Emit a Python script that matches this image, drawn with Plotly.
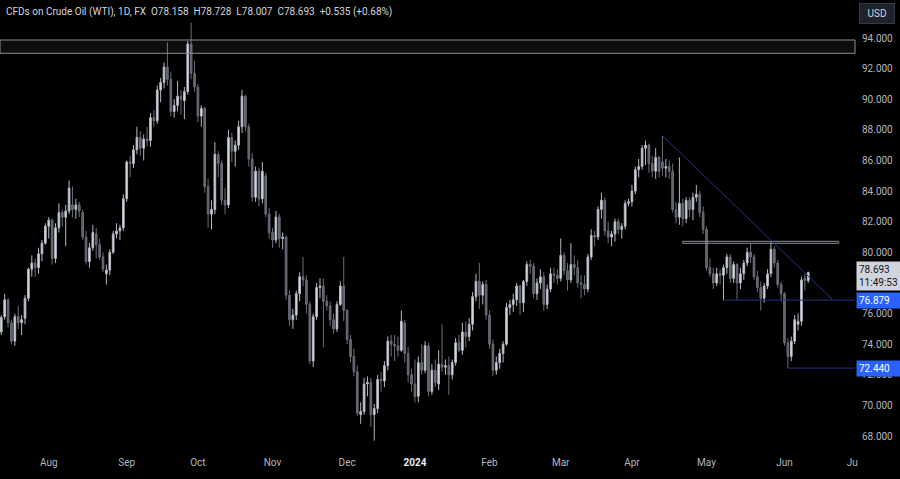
import pandas as pd
import plotly.graph_objects as go

# daily bars, Jul 12 2023 -> Jun 12 2024 (weekdays, no Christmas / New Year bar)
HOLIDAYS = ["2023-12-25", "2024-01-01"]
dates = pd.bdate_range("2023-07-12", "2024-06-12", freq="C", holidays=HOLIDAYS) + pd.Timedelta(hours=12)

# one line per month: Jul, Aug, Sep, Oct, Nov, Dec, Jan, Feb, Mar, Apr, May, Jun
opens = [
    74.8, 75.8, 76.9, 75.4, 74.2, 75.8, 75.4, 75.7, 77.0, 78.9, 79.3, 79.0, 79.9, 80.6,
    81.7, 82.1, 79.6, 81.6, 82.6, 82.3, 82.7, 83.1, 82.8, 83.1, 82.6, 81.0, 79.4, 80.3, 81.2, 80.5, 79.7, 78.6, 78.85, 80.0, 81.2, 81.4, 81.6,
    83.5, 85.9, 85.8, 86.7, 87.5, 86.8, 87.4, 87.3, 88.8, 88.6, 90.6, 91.1, 92.1, 91.3, 89.2, 89.6, 90.2, 89.9, 90.5, 93.6, 91.7,
    90.8, 88.9, 89.4, 84.3, 82.5, 82.8, 86.4, 85.8, 83.4, 83.1, 87.5, 86.6, 87.0, 88.2, 90.2, 88.2, 86.1, 83.6, 85.3, 83.5, 85.0, 82.5,
    81.3, 80.8, 82.3, 80.9, 81.0, 77.2, 75.6, 75.9, 77.3, 78.4, 78.2, 76.6, 72.9, 75.8, 77.7, 77.8, 76.8, 76.5, 75.6, 75.0, 76.6, 77.8,
    76.2, 74.3, 73.2, 72.2, 69.4, 69.6, 71.4, 71.5, 69.4, 69.8, 71.7, 71.6, 72.6, 74.2, 74.0, 73.9, 73.6, 75.4, 73.4, 72.0,
    71.4, 70.6, 72.8, 72.3, 73.9, 70.9, 72.3, 71.4, 72.7, 72.5, 72.6, 72.0, 72.8, 74.1, 73.6, 74.8, 74.5, 75.3, 77.1, 78.1, 77.2, 77.9,
    75.9, 74.0, 72.3, 72.8, 73.4, 74.0, 76.4, 76.6, 76.9, 77.8, 76.7, 78.1, 79.2, 79.1, 77.3, 78.0, 78.4, 76.6, 77.6, 78.6, 78.5,
    78.3, 79.8, 78.8, 78.2, 79.2, 79.0, 78.0, 77.9, 77.6, 79.7, 81.1, 81.0, 82.8, 83.4, 81.4, 81.0, 81.2, 82.0, 81.5, 81.7, 83.2,
    83.3, 84.0, 85.4, 85.6, 86.8, 87.0, 85.8, 85.3, 86.2, 85.9, 85.5, 85.6, 85.3, 82.8, 82.3, 83.2, 82.2, 83.4, 82.8, 83.6, 83.8, 82.6,
    81.5, 79.0, 78.6, 78.0, 78.6, 78.5, 79.0, 79.7, 78.3, 79.2, 78.0, 78.6, 79.3, 80.0, 79.7, 78.4, 77.7, 77.0, 77.8, 78.6, 80.2, 79.3, 77.9,
    77.3, 74.1, 73.2, 74.2, 75.3, 75.5, 78.3, 78.158,
]
highs = [
    75.9, 77.3, 77.0, 75.6, 76.0, 76.5, 75.9, 77.2, 79.0, 79.8, 79.6, 80.3, 80.8, 81.9,
    82.3, 82.2, 81.9, 83.2, 82.8, 83.1, 84.7, 84.3, 83.5, 83.3, 82.8, 81.4, 80.6, 81.8, 81.6, 80.9, 80.0, 79.2, 80.2, 81.4, 81.9, 81.8, 83.8,
    86.0, 86.3, 87.0, 88.2, 87.9, 87.7, 88.2, 89.1, 89.3, 90.9, 91.4, 92.4, 93.7, 91.8, 90.0, 91.2, 90.6, 90.8, 93.8, 95.0, 92.5,
    91.0, 89.6, 89.5, 84.8, 83.4, 87.2, 86.6, 86.0, 84.2, 88.0, 87.8, 87.3, 88.6, 90.6, 90.3, 88.4, 86.5, 85.6, 85.5, 85.9, 85.2, 82.9,
    81.6, 82.7, 82.5, 81.3, 81.1, 77.5, 76.3, 77.5, 78.7, 79.7, 78.5, 76.8, 76.0, 78.0, 78.3, 78.3, 77.2, 76.8, 76.0, 76.8, 78.1, 79.7,
    76.3, 74.6, 73.7, 72.6, 70.2, 71.8, 71.9, 71.8, 70.1, 72.0, 72.2, 72.9, 74.5, 74.6, 74.6, 74.5, 76.2, 75.6, 73.8, 72.4,
    73.0, 73.2, 74.0, 74.2, 74.1, 72.7, 73.0, 73.6, 75.3, 73.0, 73.2, 73.0, 74.4, 74.6, 75.4, 75.5, 75.7, 77.4, 78.6, 79.3, 78.1, 78.2,
    76.2, 74.3, 73.2, 73.7, 74.2, 76.7, 76.9, 77.3, 78.0, 77.9, 78.2, 79.4, 79.5, 79.3, 78.3, 78.9, 78.7, 77.9, 79.0, 79.0, 78.9,
    80.9, 80.0, 79.3, 80.6, 79.8, 79.5, 78.5, 78.5, 79.9, 81.5, 81.4, 83.0, 83.9, 83.6, 82.0, 81.4, 82.2, 82.2, 81.9, 83.4, 83.5,
    84.4, 85.6, 86.1, 87.0, 87.3, 87.1, 86.3, 86.8, 86.3, 87.6, 86.1, 86.0, 85.8, 83.3, 86.2, 83.5, 83.6, 83.6, 83.9, 84.4, 84.0, 83.0,
    81.7, 79.6, 79.0, 79.0, 78.9, 79.2, 79.9, 79.9, 79.4, 79.3, 79.0, 79.5, 80.3, 80.6, 79.9, 78.8, 78.1, 78.0, 78.9, 80.7, 80.4, 79.5, 78.1,
    77.4, 74.4, 74.5, 75.9, 76.0, 78.4, 78.6, 78.728,
]
lows = [
    74.6, 75.6, 75.1, 74.0, 73.9, 75.0, 74.6, 75.3, 76.8, 78.4, 78.4, 78.6, 79.4, 80.5,
    80.9, 79.2, 79.3, 81.3, 81.7, 80.4, 82.5, 82.3, 82.2, 82.3, 80.8, 79.2, 79.0, 80.1, 79.6, 79.5, 78.7, 77.9, 78.5, 79.9, 80.9, 80.8, 81.4,
    83.3, 84.9, 85.5, 86.4, 86.3, 86.0, 86.9, 86.9, 88.2, 88.4, 89.8, 90.7, 90.9, 88.9, 88.8, 89.2, 89.0, 88.7, 90.3, 91.3, 90.5,
    88.5, 88.2, 83.9, 81.6, 81.5, 82.5, 84.9, 83.1, 82.5, 82.9, 85.9, 85.6, 86.7, 87.8, 87.9, 85.6, 83.3, 83.3, 83.0, 83.2, 82.3, 80.9,
    80.3, 80.6, 80.3, 80.2, 76.9, 75.2, 75.0, 75.6, 76.8, 77.8, 76.0, 72.7, 72.5, 75.6, 77.0, 73.8, 76.2, 75.2, 74.7, 74.8, 76.5, 75.5,
    74.0, 72.8, 71.9, 69.3, 68.8, 69.4, 70.6, 68.6, 67.7, 69.5, 70.9, 71.2, 72.3, 73.2, 72.9, 73.2, 73.5, 72.8, 71.5, 70.9,
    70.2, 70.2, 72.0, 72.1, 70.6, 70.7, 71.2, 71.0, 72.2, 72.0, 70.7, 71.7, 72.6, 73.5, 73.3, 73.8, 74.2, 74.9, 76.8, 76.3, 76.6, 75.6,
    73.7, 71.9, 72.0, 72.4, 72.8, 73.9, 75.9, 76.1, 76.5, 75.9, 76.1, 77.8, 78.6, 77.0, 76.9, 77.6, 76.2, 76.3, 77.4, 78.0, 77.9,
    78.1, 78.5, 77.5, 78.0, 78.5, 77.7, 77.0, 77.2, 77.4, 79.5, 80.4, 80.8, 82.2, 81.1, 80.6, 80.4, 80.7, 81.2, 80.9, 81.5, 83.0,
    83.0, 83.8, 84.9, 85.4, 85.7, 85.2, 84.9, 84.8, 84.9, 85.0, 84.9, 84.8, 82.6, 81.9, 81.8, 81.7, 81.9, 82.3, 82.1, 83.3, 82.3, 81.2,
    78.8, 78.4, 77.6, 77.8, 77.9, 76.88, 78.6, 78.0, 78.0, 76.9, 77.6, 78.2, 79.1, 79.3, 78.2, 77.4, 76.2, 76.7, 77.6, 78.4, 79.0, 77.7, 76.8,
    73.9, 72.44, 72.9, 74.0, 74.9, 75.2, 77.5, 78.007,
]
closes = [
    75.75, 76.9, 75.4, 74.2, 75.8, 75.4, 75.6, 77.0, 78.9, 79.3, 79.0, 79.9, 80.6, 81.7,
    82.1, 79.6, 81.6, 82.6, 82.3, 82.7, 84.2, 82.8, 83.1, 82.7, 81.0, 79.4, 80.3, 81.3, 80.5, 79.7, 78.9, 78.85, 80.0, 81.2, 81.4, 81.6, 83.5,
    85.9, 85.8, 86.7, 87.5, 86.8, 87.4, 87.3, 88.8, 88.6, 90.6, 91.1, 92.1, 91.3, 89.2, 89.6, 90.2, 90.0, 90.5, 93.6, 91.7, 90.8,
    88.9, 89.4, 84.3, 82.5, 82.8, 86.4, 85.8, 83.4, 83.1, 87.5, 86.6, 87.0, 88.2, 90.2, 88.2, 86.1, 83.6, 85.3, 83.5, 85.3, 82.5, 81.3,
    80.8, 82.3, 80.9, 81.0, 77.2, 75.6, 75.9, 77.3, 78.4, 78.2, 76.6, 72.9, 75.8, 77.7, 77.8, 76.8, 76.5, 75.6, 75.0, 76.6, 77.8, 76.2,
    74.3, 73.2, 72.2, 69.5, 69.6, 71.4, 71.5, 69.4, 69.8, 71.7, 71.6, 72.6, 74.2, 74.0, 73.9, 73.6, 75.5, 73.4, 72.0, 71.4,
    70.6, 72.8, 72.3, 73.9, 70.9, 72.3, 71.5, 72.7, 72.5, 72.6, 72.0, 72.8, 74.1, 73.6, 74.8, 74.5, 75.3, 77.1, 78.1, 77.2, 77.9, 75.9,
    74.0, 72.3, 72.8, 73.4, 74.0, 76.4, 76.6, 76.9, 77.8, 76.7, 78.1, 79.2, 79.1, 77.3, 78.0, 78.4, 76.6, 77.6, 78.6, 78.5, 78.3,
    79.8, 78.8, 78.2, 79.2, 79.0, 78.0, 77.9, 77.6, 79.7, 81.1, 81.0, 82.8, 83.4, 81.4, 81.0, 81.2, 82.0, 81.5, 81.7, 83.2, 83.3,
    84.0, 85.4, 85.6, 86.8, 87.0, 85.8, 85.3, 86.2, 85.3, 85.5, 85.6, 85.3, 82.8, 82.3, 83.2, 82.2, 83.4, 82.8, 83.6, 83.8, 82.6, 81.5,
    79.0, 78.6, 78.0, 78.6, 78.5, 79.0, 79.7, 78.3, 79.2, 78.0, 78.6, 79.3, 80.0, 79.7, 78.4, 77.7, 77.0, 77.8, 78.6, 80.2, 79.3, 77.9, 77.3,
    74.1, 73.2, 74.2, 75.6, 75.5, 78.2, 78.16, 78.693,
]

month_ticks = ["2023-08-01", "2023-09-01", "2023-10-02", "2023-11-01", "2023-12-01", "2024-01-02",
               "2024-02-01", "2024-03-01", "2024-04-01", "2024-05-01", "2024-06-03", "2024-07-01"]
month_labels = ["Aug", "Sep", "Oct", "Nov", "Dec", "<b><span style='color:#e8eaf0'>2024</span></b>",
                "Feb", "Mar", "Apr", "May", "Jun", "Ju"]
# 78.000 sits under the last-price tag, so the scale does not print it
price_ticks = [68, 70, 72, 74, 76, 80, 82, 84, 86, 88, 90, 92, 94]

# drawn levels
zone_top, zone_bottom = 93.87, 93.0
box_top, box_bottom = 80.72, 80.59
support, swing_low = 76.879, 72.44
trend_start = ("2024-04-12 12:00", 87.62)
trend_end = ("2024-06-21 12:00", 76.95)

X_RANGE = ["2023-07-12 03:00", "2024-07-02 07:00"]
Y_RANGE = [66.763, 96.482]
NAVY = "#25328a"
GREY = "#8a8d96"
TXT = "#b2b5be"
FONT = "Roboto"

fig = go.Figure()
fig.add_trace(go.Candlestick(
    x=dates, open=opens, high=highs, low=lows, close=closes,
    increasing=dict(line=dict(color="#b4b7c0", width=1), fillcolor="#e1e4ea"),
    decreasing=dict(line=dict(color="#6b6e79", width=1), fillcolor="#5d606b"),
    whiskerwidth=0, hoverinfo="skip", showlegend=False,
))

shapes = [
    # resistance zone near the highs
    dict(type="rect", xref="paper", yref="y", x0=0, x1=1, y0=zone_bottom, y1=zone_top,
         fillcolor="rgba(255,255,255,0.05)", line=dict(color=GREY, width=1)),
    # thin box around 80.6
    dict(type="rect", xref="x", yref="y", x0="2024-04-22 12:00", x1="2024-06-25 12:00",
         y0=box_bottom, y1=box_top, line=dict(color=GREY, width=1)),
    # descending trendline
    dict(type="line", xref="x", yref="y", x0=trend_start[0], y0=trend_start[1],
         x1=trend_end[0], y1=trend_end[1], line=dict(color=NAVY, width=1)),
    dict(type="line", xref="x", yref="y", x0="2024-05-08 12:00", x1=X_RANGE[1],
         y0=support, y1=support, line=dict(color=NAVY, width=1)),
    dict(type="line", xref="x", yref="y", x0="2024-06-04 12:00", x1=X_RANGE[1],
         y0=swing_low, y1=swing_low, line=dict(color=NAVY, width=1)),
]

def price_tag(y, text, bg, color, yshift=0):
    return dict(xref="paper", yref="y", x=1, y=y, xanchor="left", yanchor="middle",
                xshift=1, yshift=yshift, text=text, showarrow=False, align="left",
                bgcolor=bg, borderpad=2, width=40,
                font=dict(family=FONT, size=10, color=color))

annotations = [
    dict(xref="paper", yref="paper", x=0, y=1, xanchor="left", yanchor="top",
         xshift=4, yshift=-4, showarrow=False,
         text="CFDs on Crude Oil (WTI), 1D, FX\u00a0\u00a0O78.158\u00a0\u00a0H78.728\u00a0\u00a0"
              "L78.007\u00a0\u00a0C78.693\u00a0\u00a0+0.535 (+0.68%)",
         font=dict(family=FONT, size=10, color="#d1d4dc")),
    dict(xref="paper", yref="paper", x=1, y=1, xanchor="left", yanchor="top",
         xshift=4, yshift=-3, showarrow=False, text="USD", bgcolor="#1e222d",
         bordercolor="#363a45", borderwidth=1, borderpad=4, width=26,
         font=dict(family=FONT, size=10, color="#d1d4dc")),
    price_tag(closes[-1], "78.693<br>11:49:53", "#d1d4dc", "#131722", yshift=-4),
    price_tag(support, "76.879", "#2962ff", "#ffffff"),
    price_tag(swing_low, "72.440", "#2962ff", "#ffffff"),
]

fig.update_layout(
    width=900, height=479,
    margin=dict(l=0, r=45, t=0, b=24),
    paper_bgcolor="#000000", plot_bgcolor="#000000",
    shapes=shapes, annotations=annotations,
    showlegend=False, hovermode=False,
)
fig.update_xaxes(
    type="date", range=X_RANGE, rangeslider_visible=False,
    rangebreaks=[dict(bounds=["sat", "mon"]), dict(values=HOLIDAYS)],
    tickvals=[pd.Timestamp(d) + pd.Timedelta(hours=12) for d in month_ticks],
    ticktext=month_labels, ticks="", showgrid=False, zeroline=False, showline=False,
    tickfont=dict(family=FONT, size=10, color=TXT),
)
fig.update_yaxes(
    side="right", range=Y_RANGE, tickvals=price_ticks, tickformat=".3f",
    ticks="outside", ticklen=4, tickcolor="rgba(0,0,0,0)",
    showgrid=False, zeroline=False, showline=False,
    tickfont=dict(family=FONT, size=10, color=TXT),
)

# page has a default 8px body margin; drop it so the figure fills the window
fig.write_html("out.html", config={"displayModeBar": False},
               post_script="document.body.style.margin='0';"
                           "document.body.style.background='#000';"
                           "document.body.style.overflow='hidden';")
